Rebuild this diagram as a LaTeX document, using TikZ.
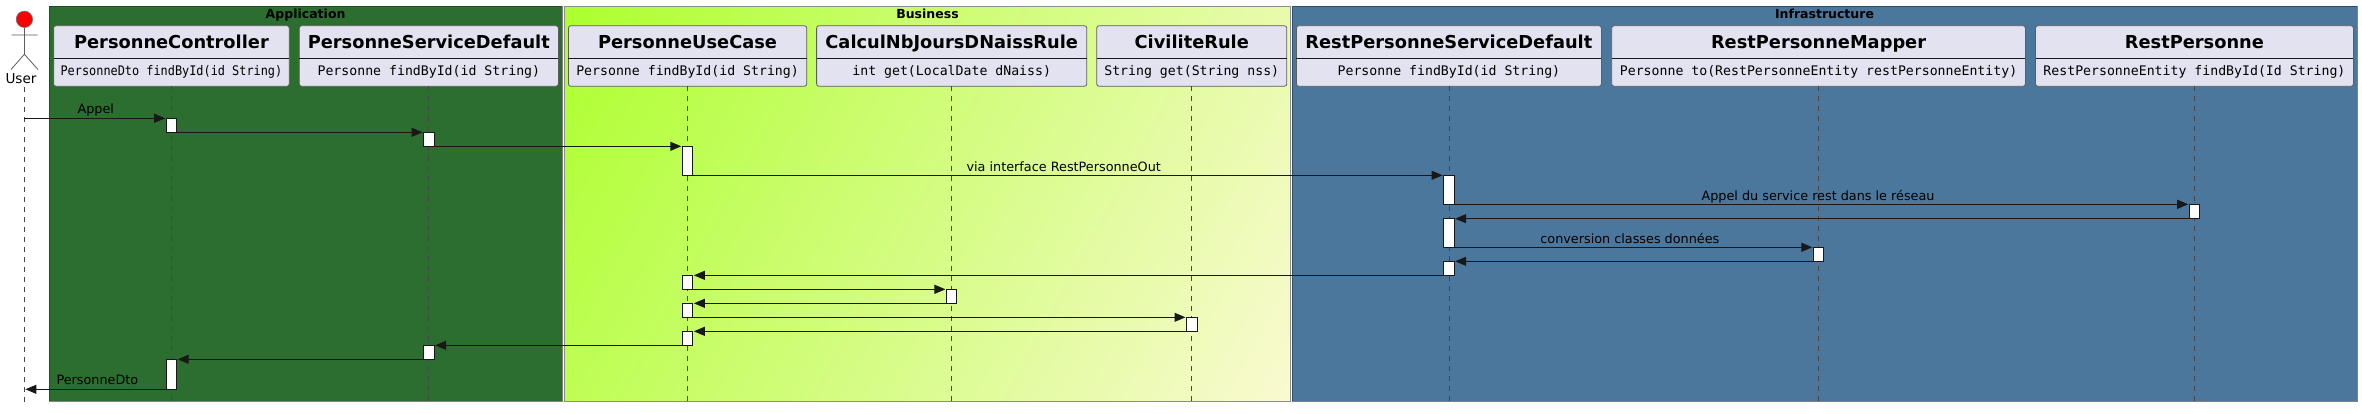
\documentclass[tikz,border=0pt]{standalone}
\usepackage{fontspec}
\setmainfont{DejaVu Sans}
\newfontfamily\codefont{DejaVu Sans Mono}
\usetikzlibrary{arrows.meta,calc}
\definecolor{appfill}{HTML}{2C6E2F}
\definecolor{infrafill}{HTML}{4C779D}
\definecolor{busa}{HTML}{ADFF2F}
\definecolor{busb}{HTML}{FAFAD2}
\definecolor{partfill}{HTML}{E2E2F0}
\definecolor{ink}{HTML}{181818}
\tikzset{
  partbox/.style={draw=ink!70,line width=0.8pt,fill=partfill,rounded corners=2.5pt,inner sep=0pt,outer sep=0pt,minimum height=60.6pt},
  parttitle/.style={font=\fontsize{17.8}{20}\selectfont\bfseries,text=black,inner sep=0pt,anchor=base},
  partmember/.style={font=\fontsize{13.2}{16}\selectfont\codefont,text=black,inner sep=0pt,anchor=base},
  grouptitle/.style={font=\fontsize{12.5}{15}\selectfont\bfseries,text=black,inner sep=0pt,anchor=base},
  msglabel/.style={font=\fontsize{12.8}{15}\selectfont,text=black,inner sep=0pt,anchor=base west},
  sepline/.style={draw=ink,line width=1pt},
  lifeline/.style={draw=ink!80,line width=0.8pt,dash pattern=on 5pt off 5pt},
  actbox/.style={draw=ink,line width=1pt,fill=white,inner sep=0pt,outer sep=0pt,minimum width=10.5pt},
  msg/.style={draw=ink,line width=1pt,-{Triangle[length=11pt,width=9pt,fill=ink]},shorten >=1pt},
  actorline/.style={draw=ink!70,line width=0.8pt},
}
% \partic{name}{left}{right}{title}{member}
\newcommand{\partic}[5]{%
  \node[partbox,minimum width=#3pt-#2pt] (#1) at ({(#2+#3)/2},56) {};
  \draw[sepline] (#1.west |- 0,58.3) -- (#1.east |- 0,58.3);
  \node[parttitle] (#1title) at ({(#2+#3)/2},48.8) {#4};
  \node[partmember] (#1member) at ({(#2+#3)/2},75.6) {#5};
  \coordinate (#1end) at (#1.south |- 0,402.7);
  \draw[lifeline] (#1.south) -- (#1end);
}
% \act{name}{participant}{top}{bottom}
\newcommand{\act}[4]{%
  \pgfmathsetmacro{\acth}{#4-#3}%
  \pgfmathsetmacro{\actm}{(#4+#3)/2}%
  \node[actbox,minimum height=\acth pt] (#1) at (#2.south |- 0,\actm) {};
}
\begin{document}
\begin{tikzpicture}[x=1pt,y=-1pt]
\useasboundingbox (0,0) rectangle (2362,413);
\fill[white] (0,0) rectangle (2362,413);

% groups
\fill[appfill] (49.4,6) rectangle (562.5,401.3);
\draw[appfill!70!black,line width=1pt] (49.4,401.3) -- (49.4,6) -- (562.5,6);
\draw[black!50,line width=1pt] (49.4,401.3) -- (562.5,401.3) -- (562.5,6);

\begin{scope}
  \clip (564,6) rectangle (1290.7,401.3);
  \foreach \i in {0,...,127}{
    \pgfmathsetmacro{\t}{\i/127}
    \pgfmathsetmacro{\p}{100*(1-\t)}
    \pgfmathsetmacro{\px}{564+\t*726.7}
    \pgfmathsetmacro{\py}{6+\t*395.3}
    \fill[busa!\p!busb] (\px-395.3,\py+726.7) -- (\px+395.3,\py-726.7)
      -- (\px+395.3+1453,\py-726.7+790) -- (\px-395.3+1453,\py+726.7+790) -- cycle;
  }
\end{scope}
\draw[black!45,line width=1pt] (564,6) rectangle (1290.7,401.3);

\fill[infrafill] (1292.3,6) rectangle (2357,401.3);
\draw[infrafill!65!black,line width=1pt] (1292.3,401.3) -- (1292.3,6) -- (2357,6);
\draw[black!50,line width=1pt] (1292.3,401.3) -- (2357,401.3) -- (2357,6);

\node[grouptitle] (gapp) at (305.6,18) {Application};
\node[grouptitle] (gbus) at (927.5,18) {Business};
\node[grouptitle] (ginf) at (1824.5,18) {Infrastructure};

% actor
\coordinate (uhead) at (24.4,19.3);
\coordinate (uneck) at (24.4,27.7);
\coordinate (uhip) at (24.4,54.3);
\coordinate (uarml) at (11.5,35);
\coordinate (uarmr) at (37.5,35);
\coordinate (ulegl) at (11,69.5);
\coordinate (ulegr) at (38,69.5);
\draw[actorline] (uneck) -- (uhip) (uarml) -- (uarmr) (ulegl) -- (uhip) -- (ulegr);
\node[circle,draw=ink!60,line width=0.6pt,fill=red,minimum size=16.4pt,inner sep=0pt] (ucirc) at (uhead) {};
\node[font=\fontsize{13.6}{16}\selectfont,text=black,inner sep=0pt,anchor=base] (user) at (21,83) {User};
\coordinate (utop) at (24.4,87);
\coordinate (uend) at (24.4,402.7);
\draw[lifeline] (utop) -- (uend);
\coordinate (ustart) at (24.4,118.3);
\coordinate (ustop) at (24.4,389.3);

% participants
\partic{pc}{53.6}{289.3}{PersonneController}{\scalebox{0.9}[1]{PersonneDto findById(id String)}}
\partic{ps}{299.3}{558.4}{PersonneServiceDefault}{Personne findById(id String)}
\partic{pu}{568.4}{806.7}{PersonneUseCase}{Personne findById(id String)}
\partic{pn}{816.6}{1086.8}{CalculNbJoursDNaissRule}{int get(LocalDate dNaiss)}
\partic{pv}{1096.7}{1286.8}{CiviliteRule}{String get(String nss)}
\partic{pr}{1296.4}{1601.4}{RestPersonneServiceDefault}{Personne findById(id String)}
\partic{pm}{1611.7}{2025.4}{RestPersonneMapper}{Personne to(RestPersonneEntity restPersonneEntity)}
\partic{pe}{2035.5}{2353.4}{RestPersonne}{RestPersonneEntity findById(Id String)}

% activations
\act{c1}{pc}{118.3}{132.3}
\act{s1}{ps}{132.3}{146.3}
\act{u1}{pu}{146.3}{175.3}
\act{r1}{pr}{175.3}{204.3}
\act{e1}{pe}{204.3}{218.7}
\act{r2}{pr}{218.7}{247.3}
\act{m1}{pm}{247.3}{261.3}
\act{r3}{pr}{261.3}{275.3}
\act{u2}{pu}{275.3}{289.3}
\act{n1}{pn}{289.3}{303.3}
\act{u3}{pu}{303.3}{317.3}
\act{v1}{pv}{317.3}{331.3}
\act{u4}{pu}{331.3}{345.3}
\act{s2}{ps}{345.3}{359.3}
\act{c2}{pc}{359.3}{389.3}

% messages
\draw[msg] (ustart) -- (c1.north west);
\draw[msg] (c1.south east) -- (s1.north west);
\draw[msg] (s1.south east) -- (u1.north west);
\draw[msg] (u1.south east) -- (r1.north west);
\draw[msg] (r1.south east) -- (e1.north west);
\draw[msg] (e1.south west) -- (r2.north east);
\draw[msg] (r2.south east) -- (m1.north west);
\draw[msg] (m1.south west) -- (r3.north east);
\draw[msg] (r3.south west) -- (u2.north east);
\draw[msg] (u2.south east) -- (n1.north west);
\draw[msg] (n1.south west) -- (u3.north east);
\draw[msg] (u3.south east) -- (v1.north west);
\draw[msg] (v1.south west) -- (u4.north east);
\draw[msg] (u4.south west) -- (s2.north east);
\draw[msg] (s2.south west) -- (c2.north east);
\draw[msg] (c2.south west) -- (ustop);

% message labels
\node[msglabel] (l1) at (77.3,113) {Appel};
\node[msglabel] (l2) at (966.4,171) {via interface RestPersonneOut};
\node[msglabel] (l3) at (1701.3,200) {Appel du service rest dans le réseau};
\node[msglabel] (l4) at (1540.2,243) {conversion classes données};
\node[msglabel] (l5) at (56.3,384) {PersonneDto};
\end{tikzpicture}
\end{document}
